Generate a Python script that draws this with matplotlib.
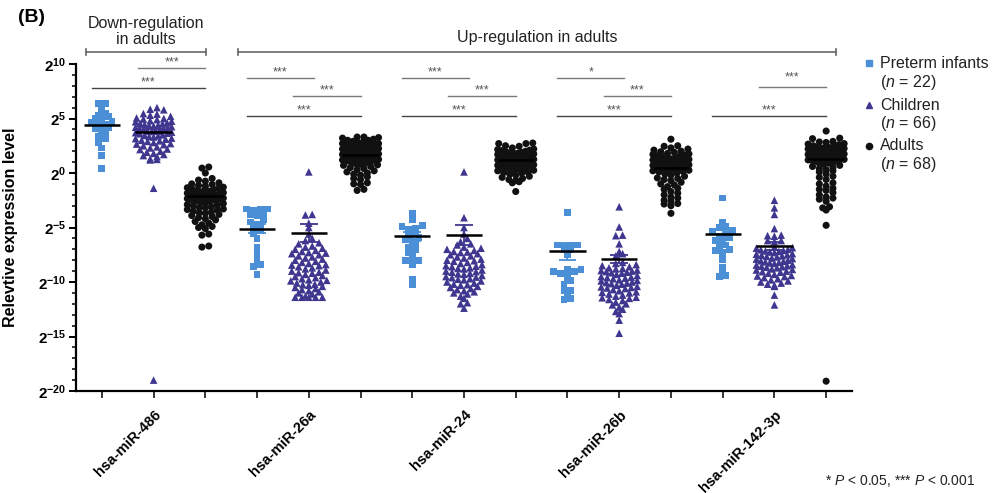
import numpy as np
import matplotlib
matplotlib.use('Agg')
import matplotlib.pyplot as plt

plt.rcParams['font.family'] = ['Liberation Sans', 'DejaVu Sans']
plt.rcParams['mathtext.fontset'] = 'custom'
plt.rcParams['mathtext.rm'] = 'Liberation Sans'
plt.rcParams['mathtext.bf'] = 'Liberation Sans:bold'
plt.rcParams['mathtext.it'] = 'Liberation Sans:italic'

# miRNA names, values are log2 relative expression
mirnas = ['hsa-miR-486', 'hsa-miR-26a', 'hsa-miR-24', 'hsa-miR-26b', 'hsa-miR-142-3p']

preterm_486 = [6.4, 6.35, 5.9, 5.5, 5.3, 5.15, 5.0, 4.9, 4.75, 4.6, 4.5, 4.45, 4.2, 4.05, 3.8, 3.65,
               3.4, 3.2, 2.8, 2.3, 1.6, 0.4]
children_486 = [6.0, 5.85, 5.8, 5.45, 5.4, 5.3, 5.2, 5.05, 5.0, 4.95,
                4.9, 4.8, 4.75, 4.7, 4.6, 4.55, 4.5, 4.45, 4.4, 4.35,
                4.3, 4.25, 4.2, 4.15, 4.1, 4.05, 4.0, 3.95, 3.9, 3.85,
                3.8, 3.75, 3.7, 3.65, 3.6, 3.5, 3.45, 3.4, 3.35, 3.3,
                3.2, 3.15, 3.1, 3.0, 2.95, 2.9, 2.8, 2.7, 2.65, 2.6,
                2.5, 2.4, 2.3, 2.2, 2.15, 2.0, 1.9, 1.8, 1.7, 1.6,
                1.5, 1.3, 1.25, 1.2, -1.4, -19.0]
adults_486 = [0.55, 0.45, 0.0, -0.5, -0.65, -0.9, -1.0, -1.05, -1.15, -1.2,
              -1.3, -1.35, -1.4, -1.5, -1.55, -1.6, -1.65, -1.7, -1.8, -1.85,
              -1.9, -1.95, -2.0, -2.05, -2.1, -2.15, -2.2, -2.25, -2.3, -2.35,
              -2.4, -2.45, -2.5, -2.55, -2.6, -2.7, -2.75, -2.8, -2.9, -2.95,
              -3.0, -3.1, -3.15, -3.2, -3.3, -3.35, -3.4, -3.5, -3.6, -3.65,
              -3.7, -3.8, -3.9, -4.0, -4.1, -4.2, -4.3, -4.45, -4.6, -4.75,
              -4.9, -5.0, -5.1, -5.6, -5.7, -6.7, -6.8, -0.75]

preterm_26a = [-3.3, -3.3, -3.35, -3.4, -3.8, -3.85, -3.9, -4.3, -4.5, -4.7, -4.9, -5.1,
               -5.3, -5.6, -6.0, -6.8, -7.0, -7.5, -7.9, -8.4, -8.6, -9.3]
children_26a = [0.1, -3.8, -3.85, -4.6, -5.0, -5.6, -6.0, -6.2, -6.4, -6.5,
                -6.7, -6.8, -6.9, -7.0, -7.1, -7.2, -7.3, -7.35, -7.4, -7.5,
                -7.6, -7.7, -7.8, -7.9, -8.0, -8.1, -8.2, -8.3, -8.4, -8.45,
                -8.5, -8.6, -8.7, -8.8, -8.9, -9.0, -9.1, -9.15, -9.2, -9.3,
                -9.4, -9.5, -9.6, -9.7, -9.8, -9.85, -9.9, -10.0, -10.1, -10.2,
                -10.25, -10.3, -10.4, -10.5, -10.6, -10.7, -10.8, -10.9, -11.0, -11.1,
                -11.3, -11.4, -11.4, -11.4, -11.4, -11.4]
adults_26a = [3.3, 3.3, 3.25, 3.2, 3.1, 3.0, 3.0, 2.9, 2.85, 2.8,
              2.7, 2.7, 2.6, 2.55, 2.5, 2.45, 2.4, 2.35, 2.3, 2.25,
              2.2, 2.15, 2.1, 2.05, 2.0, 1.95, 1.9, 1.85, 1.8, 1.75,
              1.7, 1.65, 1.6, 1.55, 1.5, 1.45, 1.4, 1.35, 1.3, 1.2,
              1.15, 1.1, 1.0, 0.95, 0.9, 0.8, 0.75, 0.7, 0.6, 0.5,
              0.4, 0.3, 0.2, 0.1, 0.0, -0.1, -0.2, -0.35, -0.5, -0.6,
              -0.9, -1.0, -1.05, -1.5, -1.6, 2.65, 1.25, 0.85]

preterm_24 = [-3.7, -4.3, -4.8, -4.9, -5.1, -5.2, -5.5, -5.7, -5.9, -6.1,
              -6.3, -6.5, -6.8, -7.0, -7.3, -7.5, -8.0, -8.0, -8.1, -8.4,
              -9.8, -10.2]
children_24 = [0.1, -4.1, -5.0, -5.6, -6.0, -6.3, -6.5, -6.6, -6.8, -6.9,
               -7.0, -7.1, -7.2, -7.3, -7.4, -7.5, -7.6, -7.7, -7.8, -7.9,
               -8.0, -8.05, -8.1, -8.2, -8.3, -8.4, -8.5, -8.55, -8.6, -8.7,
               -8.8, -8.9, -9.0, -9.05, -9.1, -9.2, -9.3, -9.4, -9.5, -9.55,
               -9.6, -9.7, -9.8, -9.9, -10.0, -10.1, -10.2, -10.3, -10.4, -10.5,
               -10.6, -10.7, -10.8, -10.9, -11.0, -11.1, -11.3, -11.5, -11.9, -12.0,
               -12.4, -7.25, -8.75, -9.25, -9.75, -10.25]
adults_24 = [2.75, 2.7, 2.7, 2.5, 2.45, 2.3, 2.2, 2.15, 2.1, 2.05,
             2.0, 1.95, 1.9, 1.85, 1.8, 1.8, 1.75, 1.7, 1.65, 1.6,
             1.6, 1.55, 1.5, 1.45, 1.4, 1.4, 1.35, 1.3, 1.25, 1.2,
             1.2, 1.15, 1.1, 1.05, 1.0, 0.95, 0.9, 0.85, 0.8, 0.75,
             0.7, 0.65, 0.6, 0.55, 0.5, 0.45, 0.4, 0.35, 0.3, 0.25,
             0.2, 0.1, 0.05, 0.0, -0.1, -0.2, -0.3, -0.4, -0.5, -0.6,
             -0.7, -0.8, -0.9, -1.7, 1.0, 0.6, 1.5, 0.4]

preterm_26b = [-3.6, -6.6, -6.6, -6.65, -6.7, -7.0, -7.05, -7.5, -8.8, -8.85,
               -9.0, -9.0, -9.2, -9.3, -9.8, -9.85, -10.2, -10.8, -10.8, -11.3,
               -11.5, -11.6]
children_26b = [-3.1, -4.95, -5.7, -5.75, -6.5, -7.2, -7.4, -7.6, -8.2, -8.3,
                -8.4, -8.5, -8.6, -8.7, -8.8, -8.9, -9.0, -9.1, -9.15, -9.2,
                -9.3, -9.4, -9.5, -9.55, -9.6, -9.7, -9.8, -9.85, -9.9, -10.0,
                -10.1, -10.15, -10.2, -10.3, -10.4, -10.45, -10.5, -10.6, -10.7, -10.8,
                -10.9, -11.0, -11.1, -11.2, -11.3, -11.4, -11.5, -11.6, -11.7, -11.85,
                -12.0, -12.1, -12.3, -12.5, -12.7, -12.9, -13.5, -14.7, -9.05, -10.05,
                -10.55, -9.65, -8.95, -10.95, -11.45, -8.75]
adults_26b = [3.1, 2.5, 2.45, 2.3, 2.2, 2.1, 2.0, 1.95, 1.9, 1.8,
              1.75, 1.7, 1.6, 1.55, 1.5, 1.45, 1.4, 1.3, 1.25, 1.2,
              1.15, 1.1, 1.0, 0.95, 0.9, 0.85, 0.8, 0.75, 0.7, 0.65,
              0.6, 0.55, 0.5, 0.45, 0.4, 0.35, 0.3, 0.2, 0.15, 0.1,
              0.0, -0.1, -0.2, -0.3, -0.45, -0.6, -0.7, -0.85, -1.0, -1.1,
              -1.25, -1.4, -1.5, -1.7, -1.85, -2.0, -2.2, -2.3, -2.5, -2.6,
              -2.8, -2.85, -3.0, -3.7, 1.65, 1.05, 0.25, -0.5]

preterm_142 = [-2.3, -4.5, -4.9, -5.0, -5.3, -5.4, -5.6, -5.8, -5.9, -6.2,
               -6.3, -6.6, -6.8, -7.0, -7.1, -7.3, -7.8, -7.9, -8.7, -8.9,
               -9.4, -9.5]
children_142 = [-2.5, -3.2, -3.8, -5.1, -5.7, -5.75, -5.8, -6.2, -6.2, -6.3,
                -6.8, -6.85, -6.9, -7.0, -7.05, -7.1, -7.2, -7.25, -7.3, -7.4,
                -7.45, -7.5, -7.6, -7.65, -7.7, -7.8, -7.85, -7.9, -8.0, -8.05,
                -8.1, -8.2, -8.25, -8.3, -8.4, -8.45, -8.5, -8.6, -8.65, -8.7,
                -8.8, -8.85, -8.9, -9.0, -9.1, -9.2, -9.3, -9.4, -9.5, -9.6,
                -9.7, -9.8, -9.9, -10.0, -10.1, -10.2, -10.3, -10.4, -11.2, -12.1,
                -7.15, -7.55, -8.15, -8.55, -9.05, -9.45]
adults_142 = [3.85, 3.2, 3.15, 2.9, 2.85, 2.8, 2.7, 2.65, 2.6, 2.5,
              2.45, 2.4, 2.3, 2.25, 2.2, 2.15, 2.1, 2.0, 1.95, 1.9,
              1.85, 1.8, 1.7, 1.65, 1.6, 1.5, 1.45, 1.4, 1.3, 1.25,
              1.2, 1.1, 1.05, 1.0, 0.9, 0.8, 0.7, 0.6, 0.5, 0.4,
              0.3, 0.2, 0.1, -0.1, -0.3, -0.4, -0.9, -1.0, -1.2, -1.4,
              -1.6, -1.8, -2.0, -2.2, -2.3, -2.4, -2.6, -3.1, -3.2, -3.4,
              -4.8, -19.1, 2.35, 1.55, 0.95, -0.6, -1.5, 1.75]

# group means / SEM as drawn in the figure (log2 units)
preterm_mean = [4.4, -5.1, -5.8, -7.2, -5.6]
children_mean = [3.8, -5.5, -5.7, -7.9, -6.7]
adults_mean = [-2.15, 1.65, 1.2, 0.46, 1.3]
preterm_sem = [0.3, 0.4, 0.4, 0.8, 0.4]
children_sem = [0.25, 0.8, 0.9, 0.4, 0.4]
adults_sem = [0.3, 0.2, 0.2, 0.3, 0.3]

preterm = [preterm_486, preterm_26a, preterm_24, preterm_26b, preterm_142]
children = [children_486, children_26a, children_24, children_26b, children_142]
adults = [adults_486, adults_26a, adults_24, adults_26b, adults_142]

# significance: (left group, right group, level row, stars) per miRNA
sig_pairs = [
    [(1, 2, 0, '***'), (0, 2, 1, '***')],
    [(0, 1, 0, '***'), (1, 2, 1, '***'), (0, 2, 2, '***')],
    [(0, 1, 0, '***'), (1, 2, 1, '***'), (0, 2, 2, '***')],
    [(0, 1, 0, '*'), (1, 2, 1, '***'), (0, 2, 2, '***')],
    [(1, 2, 3, '***'), (0, 2, 2, '***')],
]

blue = '#4b8fd6'
purple = '#3f378f'
black = '#111111'

fig = plt.figure(figsize=(10.04, 4.93), dpi=100)
ax = fig.add_axes([76/1004, 1-391/493, 776/1004, 327/493])
ax.set_xlim(-0.5, 14.5)
ax.set_ylim(-20, 10)

# pixels per data unit, for the dot layout
p0 = ax.transData.transform((0, 0))
p1 = ax.transData.transform((1, 1))
ppx = p1[0] - p0[0]
ppy = p1[1] - p0[1]


def swarm(vals, rowh=5.5, sp=6.8, maxw=36.0):
    # row-binned scatter like GraphPad: points in one row spread around the centre
    ys = np.asarray(vals, dtype=float) * ppy
    rows = np.round(ys / rowh)
    offs = np.zeros(len(ys))
    for r in np.unique(rows):
        idx = np.where(rows == r)[0]
        idx = idx[np.argsort(ys[idx])]
        k = len(idx)
        if k == 1:
            continue
        step = min(sp, maxw / (k - 1))
        slots = (np.arange(k) - (k - 1) / 2) * step
        # interleave so neighbouring values don't sit side by side
        slots = slots[np.argsort(np.abs(slots), kind='stable')]
        offs[idx] = slots / ppx
    return offs


styles = [(preterm, preterm_mean, preterm_sem, 's', 24, blue),
          (children, children_mean, children_sem, '^', 30, purple),
          (adults, adults_mean, adults_sem, 'o', 26, black)]

for g, (series, means, sems, mk, sz, col) in enumerate(styles):
    for i in range(len(mirnas)):
        pos = 3*i + g
        vals = series[i]
        offs = swarm(vals)
        ax.scatter(pos + offs, vals, marker=mk, s=sz, color=col,
                   edgecolors='none', zorder=3, clip_on=False)
        m = means[i]
        e = sems[i]
        ax.vlines(pos, m - e, m + e, color=col, lw=1.3, zorder=4)
        ax.hlines([m - e, m + e], pos - 0.17, pos + 0.17, color=col, lw=1.3, zorder=4)
        ax.hlines(m, pos - 0.35, pos + 0.35, color='black', lw=1.8, zorder=5)

# significance lines
levels = [8.72, 7.06, 5.25, 7.9]
levels_486 = [9.63, 7.8]
for i, pairs in enumerate(sig_pairs):
    for a, b, lev, stars in pairs:
        x0 = 3*i + a - (0.2 if a == 0 else 0.3)
        x1 = 3*i + b + (0.0 if b == 2 else 0.1)
        y = levels_486[lev] if i == 0 else levels[lev]
        lc = '#444444' if (a == 0 and b == 2) else '#7a7a7a'
        ax.plot([x0, x1], [y, y], color=lc, lw=1.0, clip_on=False, zorder=2)
        ax.text((x0 + x1)/2, y + (0.85 if lev == 3 else 0.5), stars, ha='center', va='center',
                fontsize=9, color='#555555', clip_on=False)


# regulation brackets
def bracket(x0, x1, y, label, ty):
    ax.plot([x0, x1], [y, y], color='#666666', lw=1.2, clip_on=False)
    for x in (x0, x1):
        ax.plot([x, x], [y - 0.3, y + 0.3], color='#666666', lw=1.2, clip_on=False)
    ax.text((x0 + x1)/2, ty, label, ha='center', va='center', fontsize=11.5,
            color='#222222', linespacing=1.05, clip_on=False)


bracket(-0.31, 2.02, 11.1, 'Down-regulation\nin adults', 13.0)
bracket(2.64, 14.2, 11.1, 'Up-regulation in adults', 12.4)

# axes styling
for s in ('top', 'right'):
    ax.spines[s].set_visible(False)
for s in ('left', 'bottom'):
    ax.spines[s].set_linewidth(1.6)
ax.set_yticks(range(-20, 11, 5))
ax.set_yticklabels([r'$\mathbf{2^{%d}}$' % v for v in range(-20, 11, 5)], fontsize=11)
ax.set_yticks(range(-20, 11), minor=True)
ax.tick_params(axis='y', which='major', length=5, width=1.4, pad=2)
ax.tick_params(axis='y', which='minor', length=3, width=1.1)
ax.set_xticks(range(15))
ax.set_xticklabels(['' if k % 3 != 1 else mirnas[k // 3] for k in range(15)],
                   rotation=45, ha='right', rotation_mode='anchor',
                   fontsize=10.5, fontweight='bold')
ax.tick_params(axis='x', length=5, width=1.1, pad=7)
ax.set_ylabel('Relevtive expression level', fontsize=11.5, fontweight='bold')
ax.yaxis.set_label_coords(-0.075, 0.5)

fig.text(18/1004, 1 - 18/493, '(B)', fontsize=14, fontweight='bold', va='center')

# legend, drawn by hand
leg = [('s', blue, 'Preterm infants', '22', 63),
       ('^', purple, 'Children', '66', 105),
       ('o', black, 'Adults', '68', 146)]
for mk, col, name, n, ypx in leg:
    fig.add_artist(plt.Line2D([869/1004], [1 - ypx/493], marker=mk, color=col,
                              markersize=4.5, linestyle='none'))
    fig.text(880/1004, 1 - ypx/493, name, fontsize=11.5, va='center', color='#222222')
    fig.text(880/1004, 1 - (ypx + 19)/493, '($n$ = %s)' % n, fontsize=11.5, va='center',
             color='#222222')

fig.text(975/1004, 1 - 481/493, r'* $P$ < 0.05, *** $P$ < 0.001', fontsize=10,
         ha='right', va='center', color='#222222')

fig.savefig('out.png', dpi=100)
